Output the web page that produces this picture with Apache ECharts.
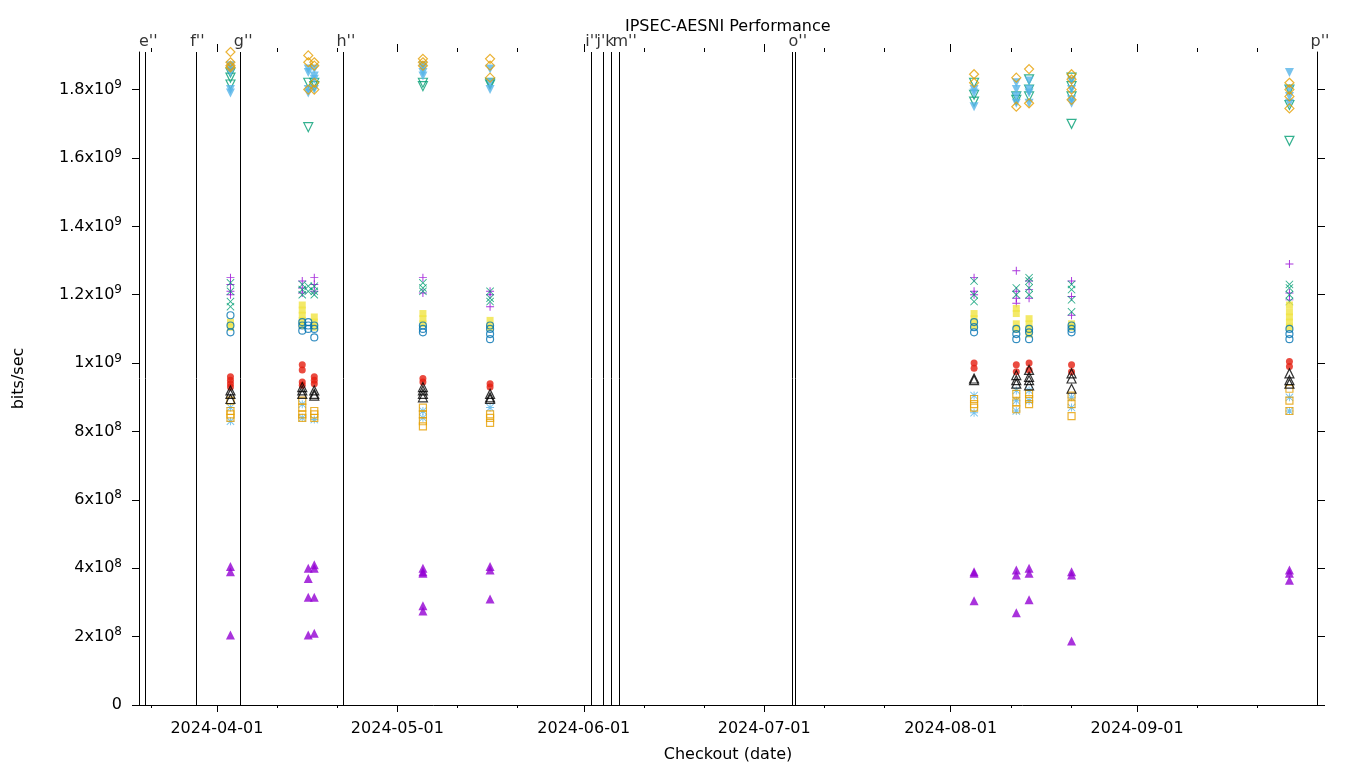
<!DOCTYPE html>
<html>
<head>
<meta charset="utf-8">
<script src="https://cdn.jsdelivr.net/npm/echarts@6/dist/echarts.min.js"></script>
<style>html,body{margin:0;padding:0;background:#fff}#c{width:1360px;height:768px}</style>
</head>
<body>
<div id="c"></div>
<script>
// ---- axis extents & ticks ----
const xMin = '2024-03-19 01:00';
const xMax = '2024-09-30 22:00';
const yMax = 1.91e9;
const yTicks = [0, 2e8, 4e8, 6e8, 8e8, 10e8, 12e8, 14e8, 16e8, 18e8];
const xMajorTicks = ['2024-04-01', '2024-05-01', '2024-06-01', '2024-07-01', '2024-08-01', '2024-09-01'];
const xMinorTicks = ['2024-03-21', '2024-04-11', '2024-04-21', '2024-05-11', '2024-05-21', '2024-06-11', '2024-06-21',
  '2024-07-11', '2024-07-21', '2024-08-11', '2024-08-21', '2024-09-11', '2024-09-21'];

// ---- event markers ----
const eventDates = ['2024-03-20 03:00', '2024-03-28 15:00', '2024-04-04 21:00', '2024-04-21 23:00',
  '2024-06-02 07:30', '2024-06-04 04:30', '2024-06-05 15:30', '2024-06-06 20:30',
  '2024-07-05 16:00', '2024-07-06 03:00', '2024-09-30 22:00'];
const eventLabels = ["e''", "f''", "g''", "h''", "i''", "j'", "k", "m''", "", "o''", "p''"];

// ---- checkout dates of the measured runs ----
const A = '2024-04-03 06:00', B1 = '2024-04-15 04:30', B2 = '2024-04-16 04:30', B3 = '2024-04-17 04:30';
const C = '2024-05-05 06:00', D = '2024-05-16 10:00', E = '2024-08-04 21:30', F = '2024-08-11 22:00';
const G = '2024-08-14 01:00', H = '2024-08-21 02:30', I = '2024-09-26 08:00';

// ---- series values (bits/sec) ----
const s1 = [[A,12.5e8],[A,12.3e8],[A,12.1e8],[A,12.0e8],[B1,12.4e8],[B1,12.2e8],[B1,12.05e8],[B3,12.5e8],[B3,12.3e8],[B3,12.1e8],
  [C,12.5e8],[C,12.05e8],[D,12.1e8],[D,12.0e8],[D,11.65e8],[E,12.5e8],[E,12.1e8],[E,12.0e8],[F,12.7e8],[F,12.1e8],[F,11.9e8],[F,11.75e8],
  [G,12.4e8],[G,12.15e8],[G,11.9e8],[H,12.4e8],[H,11.95e8],[H,11.4e8],[I,12.9e8],[I,12.05e8],[I,11.85e8]];
const s2 = [[A,12.35e8],[A,12.1e8],[A,11.8e8],[A,11.65e8],[B1,12.3e8],[B1,12.15e8],[B1,12.0e8],[B2,12.25e8],[B2,12.1e8],[B3,12.25e8],[B3,12.1e8],[B3,12.0e8],
  [C,12.35e8],[C,12.2e8],[C,12.1e8],[D,12.1e8],[D,11.9e8],[D,11.8e8],[E,12.4e8],[E,12.0e8],[E,11.8e8],[F,12.2e8],[F,12.0e8],
  [G,12.5e8],[G,12.4e8],[G,12.2e8],[G,12.0e8],[H,12.3e8],[H,12.15e8],[H,11.85e8],[H,11.5e8],[I,12.3e8],[I,12.2e8],[I,12.0e8],[I,11.8e8]];
const s3 = [[A,8.7e8],[A,8.3e8],[B1,8.8e8],[B1,8.4e8],[B3,8.35e8],[C,8.6e8],[C,8.4e8],[D,8.7e8],[E,9.05e8],[E,8.55e8],
  [F,9.2e8],[F,8.9e8],[F,8.6e8],[G,9.2e8],[G,8.9e8],[H,9.0e8],[H,8.7e8],[I,9.0e8],[I,8.6e8]];
const s4 = [[A,8.9e8],[A,8.6e8],[A,8.5e8],[A,8.4e8],[B1,8.9e8],[B1,8.7e8],[B1,8.5e8],[B1,8.4e8],[B3,8.6e8],[B3,8.5e8],[B3,8.4e8],
  [C,8.7e8],[C,8.5e8],[C,8.3e8],[C,8.15e8],[D,8.5e8],[D,8.4e8],[D,8.25e8],[E,8.95e8],[E,8.8e8],[E,8.7e8],[F,9.1e8],[F,8.85e8],[F,8.65e8],
  [G,9.1e8],[G,8.95e8],[G,8.8e8],[H,9.05e8],[H,8.8e8],[H,8.45e8],[I,9.25e8],[I,8.9e8],[I,8.6e8]];
const s5 = [[A,11.2e8],[A,11.05e8],[B1,11.7e8],[B1,11.55e8],[B1,11.4e8],[B1,11.25e8],[B1,11.1e8],[B3,11.35e8],[B3,11.2e8],[B3,11.05e8],
  [C,11.45e8],[C,11.3e8],[C,11.15e8],[D,11.25e8],[D,11.05e8],[E,11.45e8],[E,11.3e8],[E,11.1e8],[F,11.6e8],[F,11.45e8],[F,11.15e8],[F,11.0e8],
  [G,11.3e8],[G,11.15e8],[G,11.0e8],[G,10.85e8],[H,11.15e8],[H,11.05e8],[I,11.7e8],[I,11.5e8],[I,11.35e8],[I,11.2e8],[I,11.05e8]];
const s6 = [[A,11.4e8],[A,11.1e8],[A,10.9e8],[B1,11.2e8],[B1,11.1e8],[B1,10.95e8],[B2,11.2e8],[B2,11.1e8],[B2,11.0e8],[B3,11.1e8],[B3,11.0e8],[B3,10.75e8],
  [C,11.1e8],[C,11.0e8],[C,10.9e8],[D,11.1e8],[D,11.0e8],[D,10.85e8],[D,10.7e8],[E,11.2e8],[E,11.05e8],[E,10.9e8],[F,11.0e8],[F,10.85e8],[F,10.7e8],
  [G,11.0e8],[G,10.9e8],[G,10.7e8],[H,11.1e8],[H,11.0e8],[H,10.9e8],[I,11.0e8],[I,10.85e8],[I,10.7e8]];
const s7 = [[A,9.6e8],[A,9.5e8],[A,9.4e8],[A,9.3e8],[B1,9.95e8],[B1,9.8e8],[B1,9.45e8],[B1,9.35e8],[B3,9.6e8],[B3,9.5e8],[B3,9.4e8],
  [C,9.55e8],[C,9.45e8],[D,9.4e8],[D,9.3e8],[E,10.0e8],[E,9.85e8],[F,9.95e8],[F,9.75e8],[G,10.0e8],[G,9.8e8],[H,9.95e8],[H,9.75e8],[I,10.05e8],[I,9.9e8]];
const s8 = [[A,9.2e8],[A,9.1e8],[A,8.95e8],[B1,9.3e8],[B1,9.2e8],[B1,9.1e8],[B3,9.2e8],[B3,9.1e8],[B3,9.05e8],
  [C,9.3e8],[C,9.2e8],[C,9.1e8],[C,9.0e8],[D,9.1e8],[D,9.0e8],[D,8.95e8],[E,9.55e8],[E,9.5e8],[F,9.65e8],[F,9.5e8],[F,9.4e8],
  [G,9.8e8],[G,9.6e8],[G,9.5e8],[G,9.35e8],[H,9.7e8],[H,9.55e8],[H,9.25e8],[I,9.7e8],[I,9.5e8],[I,9.4e8]];
const s9 = [[A,4.05e8],[A,3.9e8],[A,2.05e8],[B2,4.0e8],[B2,3.7e8],[B2,3.15e8],[B2,2.05e8],[B3,4.1e8],[B3,4.0e8],[B3,3.15e8],[B3,2.1e8],
  [C,4.0e8],[C,3.9e8],[C,3.85e8],[C,2.9e8],[C,2.75e8],[D,4.05e8],[D,3.95e8],[D,3.1e8],[E,3.9e8],[E,3.85e8],[E,3.05e8],
  [F,3.95e8],[F,3.8e8],[F,2.7e8],[G,4.0e8],[G,3.85e8],[G,3.08e8],[H,3.9e8],[H,3.8e8],[H,1.87e8],[I,3.95e8],[I,3.85e8],[I,3.65e8]];
const s10 = [[A,18.5e8],[A,18.35e8],[A,18.15e8],[B2,18.2e8],[B2,16.9e8],[B3,18.2e8],[B3,18.1e8],[C,18.2e8],[C,18.1e8],[D,18.2e8],[D,18.15e8],
  [E,18.2e8],[E,17.85e8],[E,17.65e8],[F,17.8e8],[F,17.7e8],[G,18.3e8],[G,18.0e8],[G,17.8e8],[H,18.35e8],[H,18.1e8],[H,17.8e8],[H,17.0e8],
  [I,18.0e8],[I,17.55e8],[I,16.5e8]];
const s11 = [[A,18.7e8],[A,18.6e8],[A,18.5e8],[A,18.0e8],[A,17.9e8],[B2,18.6e8],[B2,18.5e8],[B2,18.0e8],[B2,17.9e8],[B3,18.6e8],[B3,18.4e8],[B3,18.3e8],[B3,18.0e8],
  [C,18.7e8],[C,18.6e8],[C,18.5e8],[C,18.4e8],[D,18.6e8],[D,18.2e8],[D,18.0e8],[E,18.0e8],[E,17.9e8],[E,17.5e8],[F,18.2e8],[F,18.0e8],[F,17.8e8],[F,17.6e8],
  [G,18.25e8],[G,18.0e8],[G,17.9e8],[G,17.6e8],[H,18.25e8],[H,18.0e8],[H,17.7e8],[H,17.6e8],[I,18.5e8],[I,18.0e8],[I,17.8e8],[I,17.6e8]];
const s12 = [[A,19.1e8],[A,18.8e8],[A,18.7e8],[A,18.65e8],[B2,19.0e8],[B2,18.8e8],[B2,18.0e8],[B3,18.8e8],[B3,18.7e8],[B3,18.2e8],[B3,18.0e8],
  [C,18.9e8],[C,18.8e8],[C,18.7e8],[D,18.9e8],[D,18.7e8],[D,18.35e8],[E,18.45e8],[E,18.2e8],[F,18.35e8],[F,17.5e8],[G,18.6e8],[G,17.6e8],
  [H,18.45e8],[H,18.3e8],[H,18.0e8],[H,17.7e8],[I,18.2e8],[I,18.0e8],[I,17.8e8],[I,17.45e8]];

// ---- rendering ----
const FONT = 'DejaVu Sans';
const t = s => echarts.number.parseDate(s).getTime();
const pad = n => (n < 10 ? '0' : '') + n;
const fmtDate = v => { const d = new Date(v); return d.getFullYear() + '-' + pad(d.getMonth() + 1) + '-' + pad(d.getDate()); };
const PLUS = 'path://M0,4.4H10V5.6H0ZM4.4,0H5.6V10H4.4Z';
const CROSS = 'path://M0.8,0L5,4.2L9.2,0L10,0.8L5.8,5L10,9.2L9.2,10L5,5.8L0.8,10L0,9.2L4.2,5L0,0.8Z';
const STAR = 'path://M0,4.4H10V5.6H0ZM4.4,0H5.6V10H4.4ZM0.8,0L5,4.2L9.2,0L10,0.8L5.8,5L10,9.2L9.2,10L5,5.8L0.8,10L0,9.2L4.2,5L0,0.8Z';
const TRIDOWN = 'path://M0,0H10L5,9Z';

function mk(name, data, symbol, size, color, open) {
  return {
    type: 'scatter', name, symbol, symbolSize: size, clip: false,
    data: data.map(d => [t(d[0]), d[1]]),
    itemStyle: open ? { color: 'rgba(0,0,0,0)', borderColor: color, borderWidth: 1.2 } : { color: color, borderWidth: 0 },
    emphasis: { disabled: true }, silent: true, animation: false
  };
}

function yFmt(v) {
  if (v === 0) return '{m|0}';
  const e = Math.floor(Math.log10(v) + 1e-9);
  const m = parseFloat((v / Math.pow(10, e)).toFixed(1));
  return '{m|' + m + 'x10}{e|' + e + '}';
}

const series = [
  mk('s1', s1, PLUS, 8, '#9400d3', false),
  mk('s2', s2, CROSS, 8, '#009e73', false),
  mk('s3', s3, STAR, 8, '#56b4e9', false),
  mk('s4', s4, 'rect', 7, '#e69f00', true),
  mk('s5', s5, 'rect', 7, '#f0e442', false),
  mk('s6', s6, 'circle', 7, '#0072b2', true),
  mk('s7', s7, 'circle', 7, '#e51e10', false),
  mk('s8', s8, 'triangle', 9, '#000000', true),
  mk('s9', s9, 'triangle', 9, '#9400d3', false),
  mk('s10', s10, TRIDOWN, 9, '#009e73', true),
  mk('s11', s11, TRIDOWN, 9, '#56b4e9', false),
  mk('s12', s12, 'diamond', 9, '#e69f00', true),
  {
    type: 'scatter', name: 'events', data: [], silent: true, animation: false,
    markLine: {
      symbol: 'none', silent: true, animation: false,
      lineStyle: { color: '#000', width: 1, type: 'solid' },
      label: { show: false },
      emphasis: { disabled: true },
      data: eventDates.map(d => ({ xAxis: t(d) }))
    }
  },
  {
    type: 'scatter', name: 'eventLabels', symbolSize: 1, clip: false, silent: true, animation: false,
    itemStyle: { color: 'rgba(0,0,0,0)' },
    data: eventDates.map((d, i) => ({ value: [t(d), yMax], label: { formatter: eventLabels[i] } })),
    label: { show: true, position: [-6, -18], align: 'left', verticalAlign: 'top', fontSize: 16, fontFamily: FONT, color: '#000' }
  }
];

const majorX = xMajorTicks.map(t), minorX = xMinorTicks.map(t);
function xAx(pos, ticks, len, withLabels) {
  const ax = {
    type: 'value', min: t(xMin), max: t(xMax), position: pos, offset: 0, scale: true,
    axisLine: { show: withLabels, lineStyle: { color: '#000', width: 1 } },
    axisTick: { show: true, length: len, customValues: ticks, lineStyle: { color: '#000', width: 1 } },
    axisLabel: { show: false },
    splitLine: { show: false }, minorTick: { show: false }, axisPointer: { show: false }
  };
  if (withLabels) {
    ax.axisLabel = {
      show: true, customValues: ticks, fontSize: 16, fontFamily: FONT, color: '#000', margin: 16,
      formatter: v => fmtDate(v)
    };
    ax.name = 'Checkout (date)';
    ax.nameLocation = 'middle';
    ax.nameGap = 42;
    ax.nameTextStyle = { fontSize: 16, fontFamily: FONT, color: '#000', verticalAlign: 'top' };
  }
  return ax;
}

const chart = echarts.init(document.getElementById('c'), null, { renderer: 'canvas' });
chart.setOption({
  animation: false,
  backgroundColor: '#fff',
  title: { text: 'IPSEC-AESNI Performance', left: 625, top: 19, padding: 0,
    textStyle: { fontSize: 16, fontWeight: 'normal', fontFamily: FONT, color: '#000' } },
  grid: { left: 139, right: 43, top: 52, bottom: 62.5, containLabel: false },
  xAxis: [
    xAx('bottom', majorX, 7, true),
    xAx('bottom', minorX, 3, false),
    xAx('top', majorX, 8, false),
    xAx('top', minorX, 4, false)
  ],
  yAxis: [
    {
      type: 'value', min: 0, max: yMax, position: 'left',
      axisLine: { show: true, lineStyle: { color: '#000', width: 1 } },
      axisTick: { show: true, length: 7, customValues: yTicks, lineStyle: { color: '#000' } },
      axisLabel: { customValues: yTicks, formatter: yFmt, margin: 17, color: '#000',
        rich: { m: { fontSize: 16, fontFamily: FONT, color: '#000' },
                e: { fontSize: 12, fontFamily: FONT, color: '#000', padding: [0, 0, 9, 0] } } },
      splitLine: { show: false },
      name: 'bits/sec', nameLocation: 'middle', nameGap: 112, nameRotate: 90,
      nameTextStyle: { fontSize: 16, fontFamily: FONT, color: '#000' }
    },
    {
      type: 'value', min: 0, max: yMax, position: 'right',
      axisLine: { show: true, lineStyle: { color: '#000', width: 1 } },
      axisTick: { show: true, length: 8, customValues: yTicks, lineStyle: { color: '#000' } },
      axisLabel: { show: false }, splitLine: { show: false }
    }
  ],
  series: series
});
</script>
</body>
</html>
